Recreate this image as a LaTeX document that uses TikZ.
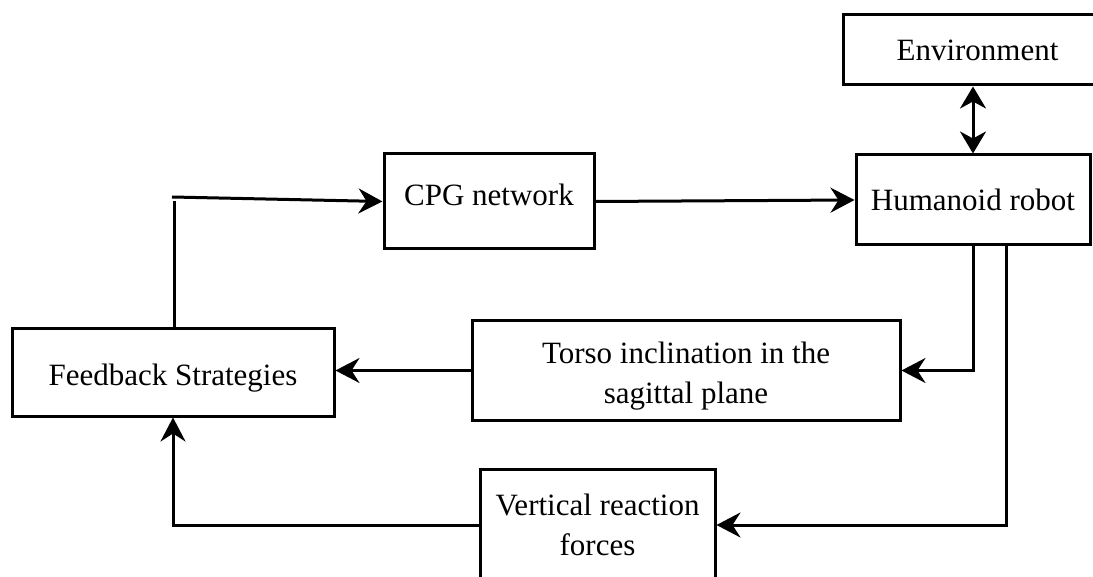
\documentclass[tikz,border=0pt]{standalone}
\usepackage{fontspec}
\setmainfont{Liberation Serif}
\usetikzlibrary{arrows.meta}
\begin{document}
\begin{tikzpicture}[x=1pt,y=-1pt,
  box/.style={draw=black,line width=3pt,rectangle,inner sep=0pt,align=center,
    font=\fontsize{31}{40}\selectfont},
  conn/.style={line width=3pt},
  arr/.style={conn,-{Stealth[length=24pt,width=25pt,inset=8pt]}},
  arrtwo/.style={conn,{Stealth[length=22pt,width=26pt,inset=7pt]}-{Stealth[length=22pt,width=26pt,inset=7pt]}}]
\useasboundingbox (0,0) rectangle (1093,577);
\clip (0,0) rectangle (1093,577);
\node[box,minimum width=269pt,minimum height=70pt] (env) at (977.5,50) {Environment};
\node[box,minimum width=234pt,minimum height=90pt] (hr) at (973,200) {Humanoid robot};
\node[box,minimum width=210pt,minimum height=95pt,text depth=14pt] (cpg) at (489,201.5) {CPG network};
\node[box,minimum width=322pt,minimum height=87pt,text height=33pt,text depth=7pt] (fb) at (173,372.5) {Feedback Strategies};
\node[box,minimum width=428pt,minimum height=99pt,text height=72pt,text depth=7pt] (torso) at (686,370.5) {Torso inclination in the\\sagittal plane};
\node[box,minimum width=235pt,minimum height=112pt] (vrf) at (597.5,525) {Vertical reaction\\forces};
\coordinate (c1) at (174,201);
\coordinate (c2) at (172,197);
\draw[conn] (c1 |- fb.north) -- (c1);
\draw[arr] (c2) -- (cpg.west);
\draw[arr] (cpg.east) -- (hr.west);
\draw[arrtwo] (hr.north |- env.south) -- (hr.north);
\draw[arr] (hr.south) |- (torso.east);
\draw[arr] ([xshift=33pt]hr.south) |- (vrf.east);
\draw[arr] (torso.west) -- (torso.west -| fb.east);
\draw[arr] (vrf.west) -| (fb.south);
\end{tikzpicture}
\end{document}
